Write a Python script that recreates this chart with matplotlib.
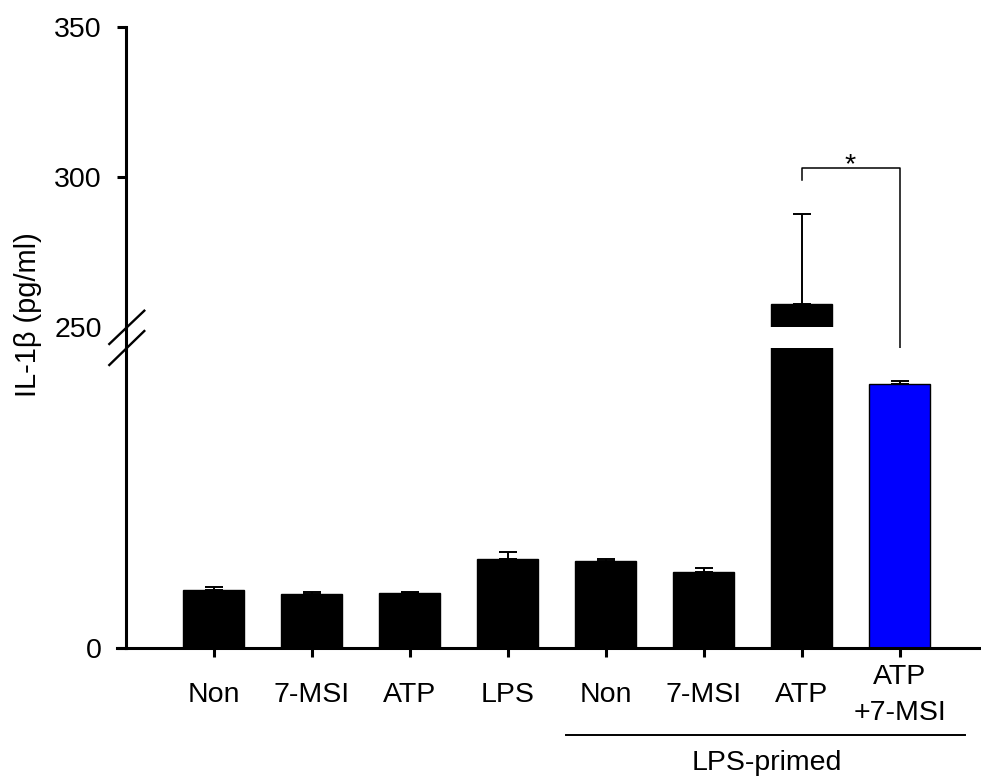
import numpy as np
import matplotlib
matplotlib.use("Agg")
import matplotlib.pyplot as plt
from matplotlib.lines import Line2D
from matplotlib.transforms import blended_transform_factory

plt.rcParams['font.family'] = ['Liberation Sans', 'DejaVu Sans']

# -----------------------------
# Data
# -----------------------------
labels = ['Non', '7-MSI', 'ATP', 'LPS', 'Non', '7-MSI', 'ATP', 'ATP\n+7-MSI']
means = [19.3, 17.9, 18.4, 29.6, 29.1, 25.4, 257.7, 88.0]
errs = [1.0, 0.8, 0.4, 2.5, 0.5, 1.3, 30.0, 1.0]
colors = ['black'] * 7 + ['#0000FF']
x = np.arange(len(labels))

W, H = 981, 778
fig = plt.figure(figsize=(W / 100, H / 100), dpi=100)

def fx(px):
    return px / W

def fy(py):
    return 1 - py / H

fs = 20.5
left, right = fx(126), fx(980)
ax_top = fig.add_axes([left, fy(327), right - left, 300 / H])
ax_bot = fig.add_axes([left, fy(648), right - left, 300 / H])

lw_axis = 2.2
for ax in (ax_top, ax_bot):
    ax.bar(x, means, width=0.62, color=colors, edgecolor='black', linewidth=1)
    ax.errorbar(x, means, yerr=[np.zeros(len(errs)), errs], fmt='none',
                ecolor='black', elinewidth=1.4, capsize=6.5, capthick=1.4)
    ax.set_xlim(-0.893, 7.82)
    ax.spines['top'].set_visible(False)
    ax.spines['right'].set_visible(False)
    ax.spines['left'].set_linewidth(lw_axis)
    ax.spines['bottom'].set_linewidth(lw_axis)
    ax.tick_params(axis='both', direction='out', length=6.5, width=lw_axis,
                   labelsize=fs, pad=11)

# upper segment
ax_top.set_ylim(250, 350)
ax_top.spines['bottom'].set_visible(False)
ax_top.set_xticks([])
ax_top.set_yticks([250, 300, 350])
ax_top.yaxis.get_major_ticks()[0].tick1line.set_visible(False)

# lower segment
ax_bot.set_ylim(0, 100)
ax_bot.set_yticks([0])
ax_bot.set_xticks(x)
ax_bot.set_xticklabels(labels, va='center', linespacing=1.5)
ax_bot.tick_params(axis='x', pad=27)

# continuous y axis through the break, and x axis stub
fig.add_artist(Line2D([left, left], [fy(327), fy(348)], color='black',
                      linewidth=lw_axis, transform=fig.transFigure))
fig.add_artist(Line2D([fx(117), left], [fy(648), fy(648)], color='black',
                      linewidth=lw_axis, transform=fig.transFigure))

# break marks
for y0, y1 in [(344, 310.7), (365, 331)]:
    fig.add_artist(Line2D([fx(109.3), fx(144.3)], [fy(y0), fy(y1)],
                          color='black', linewidth=1.7, transform=fig.transFigure))

# significance bracket
ax_top.plot([6, 6, 7, 7], [299, 303, 303, 241.3], color='black',
            linewidth=1.1, clip_on=False)
ax_top.text(6.49, 301.7, '*', ha='center', va='baseline', fontsize=fs)

# LPS-primed
tr = blended_transform_factory(ax_bot.transData, fig.transFigure)
ax_bot.add_artist(Line2D([3.6, 7.67], [fy(735), fy(735)], color='black',
                         linewidth=1.4, clip_on=False, transform=tr))
ax_bot.text(5.64, fy(763), 'LPS-primed', ha='center', va='center', fontsize=fs,
            transform=tr)

fig.text(fx(28), fy(314.5), 'IL-1β (pg/ml)', rotation=90, ha='center', va='center',
         fontsize=20.9)

plt.savefig('out.png', dpi=100)
